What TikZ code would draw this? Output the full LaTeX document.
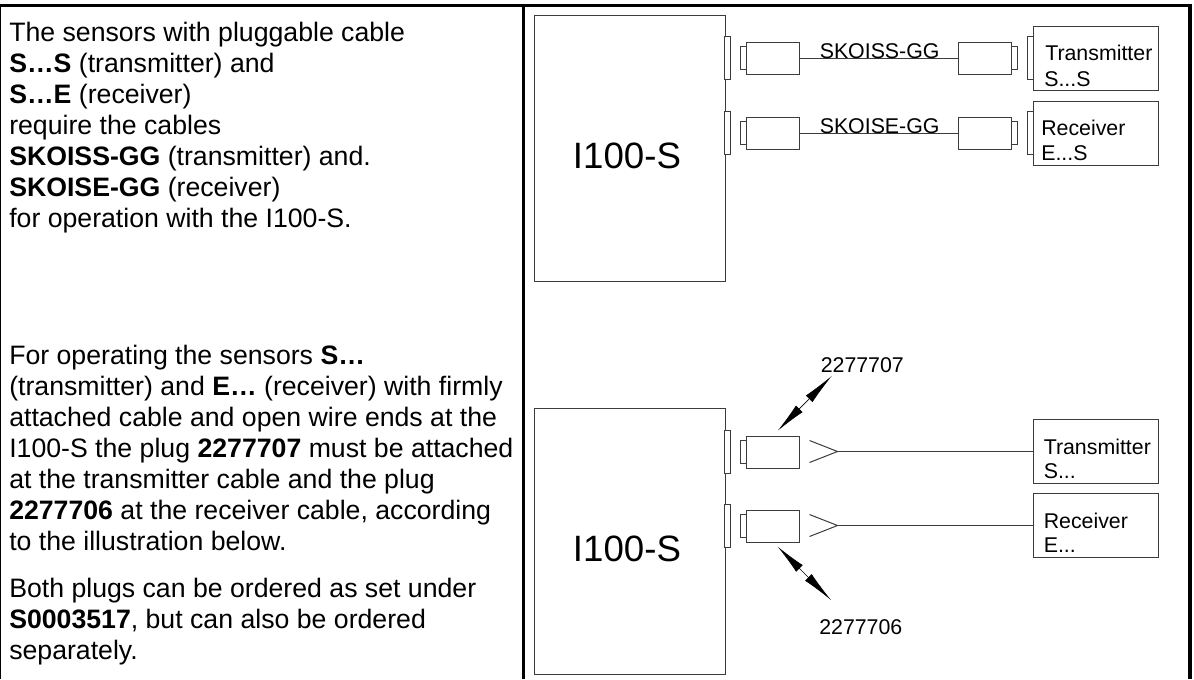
\documentclass[tikz,border=0pt]{standalone}
\usepackage{fontspec}
\setmainfont{Liberation Sans}
\usetikzlibrary{arrows.meta}
\definecolor{linegray}{RGB}{60,60,60}
\tikzset{
	frameline/.style={black, line width=2.5pt},
	part/.style={draw=linegray, line width=0.75pt, fill=white, inner sep=0pt, outer sep=0pt},
	wire/.style={linegray, line width=0.75pt},
	bodytext/.style={anchor=north west, align=left, inner sep=0pt, font=\fontsize{20}{23.3}\selectfont},
	labeltext/.style={inner sep=0pt, anchor=base west, font=\fontsize{16}{18}\selectfont},
	bigtext/.style={inner sep=0pt, anchor=base, font=\fontsize{27.5}{30}\selectfont},
	pointer/.style={{Latex[length=23pt,width=7pt]}-{Latex[length=24pt,width=7pt]}, line width=0.5pt, black}
}
\newcommand{\rectpart}[5]{\node[part, minimum width=#4*0.75pt, minimum height=#5*0.75pt, anchor=north west] (#1) at (#2,#3) {};}
\begin{document}
\begin{tikzpicture}[x=0.75pt, y=-0.75pt]
	\useasboundingbox (0,0) rectangle (1194,679);
	% Rahmen
	\draw[frameline] (0,5.5) -- (1192,5.5);
	\draw[black, line width=1.5pt] (0,4) -- (0,679);
	\draw[frameline] (523.4,4) -- (523.4,679);
	\draw[frameline] (1190,4) -- (1190,679);
	% linke Spalte
	\node[bodytext] (intro) at (9,21.7) {The sensors with pluggable cable\\
		\textbf{S…S} (transmitter) and\\
		\textbf{S…E} (receiver)\\
		require the cables\\
		\textbf{SKOISS-GG} (transmitter) and.\\
		\textbf{SKOISE-GG} (receiver)\\
		for operation with the I100-S.};
	\node[bodytext] (operate) at (9,344.7) {For operating the sensors \textbf{S…}\\
		(transmitter) and \textbf{E…} (receiver) with firmly\\
		attached cable and open wire ends at the\\
		I100-S the plug \textbf{2277707} must be attached\\
		at the transmitter cable and the plug\\
		\textbf{2277706} at the receiver cable, according\\
		to the illustration below.};
	\node[bodytext] (plugs) at (9,578.2) {Both plugs can be ordered as set under\\
		\textbf{S0003517}, but can also be ordered\\
		separately.};
	% oberes Bild
	\rectpart{devA}{534}{15}{191}{266}
	\node[bigtext] (devAname) at (627,168.3) {I100-S};
	\foreach \n/\y/\cname in {a/36/SKOISS-GG, b/111/SKOISE-GG}{
		\rectpart{sock\n}{724.5}{\y}{6}{43}
		\rectpart{tipL\n}{740}{\y+10}{6}{23}
		\rectpart{plugL\n}{746}{\y+6}{53}{32}
		\rectpart{plugR\n}{958}{\y+6}{53}{32}
		\rectpart{tipR\n}{1011}{\y+10}{6}{23}
		\rectpart{sockR\n}{1027}{\y}{6}{43}
		\rectpart{unit\n}{1033}{\y-10}{125}{64}
		\draw[wire] (plugL\n.east) -- (plugR\n.west);
		\node[labeltext] (cable\n) at (819.5,\y+22) {\cname};
	}
	\node[labeltext] (nameA) at (1045,60) {Transmitter};
	\node[labeltext] (typeA) at (1044,86) {S...S};
	\node[labeltext] (nameB) at (1041,135) {Receiver};
	\node[labeltext] (typeB) at (1041,160.7) {E...S};
	% unteres Bild
	\rectpart{devB}{534}{408}{191}{266}
	\node[bigtext] (devBname) at (627,561) {I100-S};
	\foreach \n/\y in {c/430, d/504}{
		\rectpart{sock\n}{724.5}{\y}{6}{43}
		\rectpart{tip\n}{740}{\y+10}{6}{23}
		\rectpart{plug\n}{746}{\y+6}{53}{32}
		\rectpart{unit\n}{1033}{\y-10.5}{125}{64}
		\coordinate (fork\n) at (837.5,\y+21.5);
		\coordinate (endA\n) at (809.5,\y+10.5);
		\coordinate (endB\n) at (809.5,\y+32.5);
		\draw[wire] (endA\n) -- (fork\n) -- (endB\n);
		\draw[wire] (fork\n) -- (fork\n -| unit\n.west);
	}
	\node[labeltext] (nameC) at (1043.5,454.3) {Transmitter};
	\node[labeltext] (typeC) at (1043.5,478.3) {S...};
	\node[labeltext] (nameD) at (1043.5,528.3) {Receiver};
	\node[labeltext] (typeD) at (1043.5,552.7) {E...};
	\node[labeltext] (partTop) at (820.5,372.7) {2277707};
	\node[labeltext] (partBottom) at (819,634) {2277706};
	\coordinate (ptrTopA) at (777.7,430.7);
	\coordinate (ptrTopB) at (831.7,376);
	\coordinate (ptrBotA) at (777.7,546.7);
	\coordinate (ptrBotB) at (831,600);
	\draw[pointer] (ptrTopA) -- (ptrTopB);
	\draw[pointer] (ptrBotA) -- (ptrBotB);
\end{tikzpicture}
\end{document}
